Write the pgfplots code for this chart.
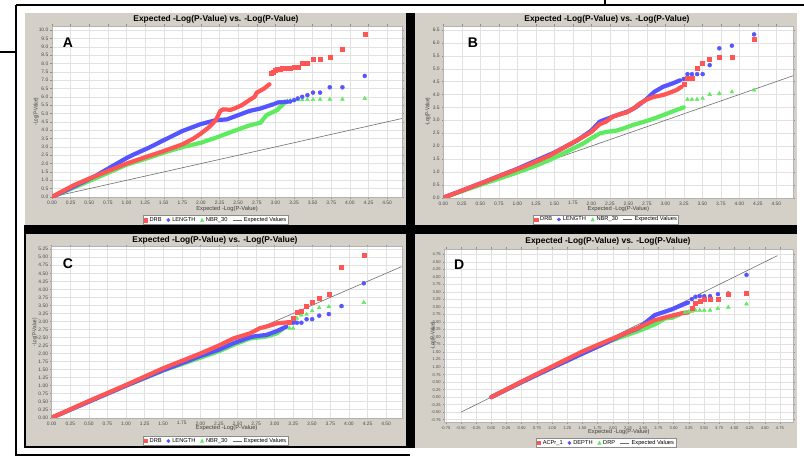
\documentclass[border=0pt]{standalone}
\usepackage{pgfplots}
\pgfplotsset{compat=1.18}
\usepackage{graphicx}
\usepackage{fontspec}
\setmainfont{Liberation Sans}
\definecolor{redc}{RGB}{255,85,85}
\definecolor{bluec}{RGB}{85,85,255}
\definecolor{greenc}{RGB}{95,235,95}
\definecolor{expc}{RGB}{110,110,110}
\definecolor{panelgray}{RGB}{212,208,200}
\definecolor{gridc}{RGB}{226,226,226}

\pgfplotsset{
  qq/.style={
    scale only axis, anchor=south west,
    axis background/.style={fill=white},
    grid=major,
    major grid style={draw=gridc, line width=0.4pt},
    axis line style={draw=black!30, line width=0.4pt},
    tick style={draw=black!45, line width=0.4pt},
    tick align=outside,
    major tick length=1.6pt,
    tick label style={font=\fontsize{4.9}{5}\selectfont, text=black!70, inner sep=0.5pt},
    xticklabel style={anchor=north, yshift=-1.6pt},
    yticklabel style={anchor=east, xshift=-1.4pt},
    /pgf/number format/fixed, /pgf/number format/fixed zerofill,
    /pgf/number format/precision=2,
    /pgf/number format/assume math mode=true,
    xlabel={Expected -Log(P-Value)},
    ylabel={\scalebox{0.78}[1]{-Log(P-Value)}},
    label style={font=\fontsize{5.8}{6}\selectfont, text=black!75},
    xlabel style={anchor=center},
    ylabel style={anchor=center},
    legend columns=-1,
    legend style={font=\fontsize{5.7}{6}\selectfont, draw=black!45, fill=white,
      inner sep=1pt, line width=0.4pt, anchor=center,
      /tikz/every odd column/.append style={column sep=1.2pt},
      /tikz/every even column/.append style={column sep=4pt},
      nodes={inner sep=0.8pt}},
    body/.style={line width=4.2pt, line join=round, line cap=round, forget plot},
    rm/.style={only marks, draw=redc, fill=redc, mark=square*, mark size=2pt, forget plot},
    bm/.style={only marks, draw=bluec, fill=bluec, mark=*, mark size=2pt, forget plot},
    gm/.style={only marks, draw=greenc, fill=greenc, mark=triangle*, mark size=2.2pt, forget plot},
    ex/.style={draw=expc, line width=0.6pt, forget plot},
  },
}
\newcommand{\legs}[3]{%
  \addlegendimage{legend image code/.code={\fill[redc] (0pt,-1.7pt) rectangle (3.4pt,1.7pt);}}
  \addlegendentry{#1}
  \addlegendimage{legend image code/.code={\fill[bluec] (1.7pt,0pt) circle (1.7pt);}}
  \addlegendentry{#2}
  \addlegendimage{legend image code/.code={\fill[greenc] (0pt,-1.5pt) -- (3.4pt,-1.5pt) -- (1.7pt,1.8pt) -- cycle;}}
  \addlegendentry{#3}
  \addlegendimage{legend image code/.code={\draw[expc, line width=0.6pt] (0pt,0pt) -- (9pt,0pt);}}
  \addlegendentry{Expected Values}
}

\begin{document}
\begin{tikzpicture}[x=1pt,y=1pt]
\useasboundingbox (0,0) rectangle (804,456);
\fill[white] (0,0) rectangle (804,456);
% frame lines
\draw[black, line width=1.3pt] (16,451) -- (804,451);
\draw[black, line width=1.3pt] (16,451) -- (16,0);
\draw[black, line width=1.3pt] (0,404) -- (16,404);
\draw[black, line width=1.3pt] (605,451) -- (605,456);
\draw[black, line width=1.3pt] (16,1) -- (410,1);
% black bands
\fill[black] (24,8) rectangle (797,231);
\fill[black] (406,231) rectangle (415,443);
% panels
\fill[panelgray] (25,231) rectangle (406,443);
\fill[panelgray] (415,231) rectangle (797,443);
\fill[panelgray] (25.5,10) rectangle (406,222);
\fill[panelgray] (415,8) rectangle (797,222);

% ---------------- A ----------------
\begin{axis}[qq, at={(52pt,259pt)}, width=350pt, height=171pt,
  xmin=0, xmax=4.7, ymin=0, ymax=10.24,
  xtick={0,0.25,...,4.5}, ytick={0,0.5,...,10},
  yticklabel style={/pgf/number format/precision=1},
  xlabel style={at={(axis description cs:0.5,-0.070)}},
  ylabel style={at={(axis description cs:-0.0457,0.5)}},
  legend style={at={(axis description cs:0.467,-0.1345)}}]
\legs{DRB}{LENGTH}{NBR\_30}
\addplot[ex] coordinates {(0,0) (4.7,4.7)};
\addplot[body, draw=greenc] coordinates {(0,0) (0.3,0.58) (0.6,1.15) (1.0,1.93) (1.25,2.28) (1.54,2.71) (1.77,3.01) (2.0,3.25) (2.2,3.55) (2.44,3.95) (2.66,4.3) (2.8,4.45) (2.88,4.9) (3.02,5.2) (3.09,5.5) (3.14,5.7)};
\addplot[gm] coordinates {(3.16,5.75) (3.20,5.78) (3.25,5.8) (3.30,5.82) (3.36,5.82) (3.43,5.83) (3.505,5.83) (3.60,5.85) (3.73,5.85) (3.90,5.85) (4.20,5.9)};
\addplot[body, draw=bluec] coordinates {(0,0) (0.3,0.64) (0.6,1.3) (0.8,1.82) (1.0,2.33) (1.1,2.55) (1.3,2.95) (1.5,3.4) (1.75,3.95) (2.0,4.37) (2.2,4.6) (2.35,4.65) (2.5,4.9) (2.65,5.15) (2.8,5.3) (2.97,5.55)};
\addplot[bm] coordinates {(3.00,5.6) (3.03,5.65) (3.06,5.68) (3.09,5.68) (3.125,5.7) (3.16,5.7) (3.20,5.72) (3.25,5.8) (3.30,5.9) (3.36,6.0) (3.43,6.1) (3.505,6.25) (3.60,6.25) (3.73,6.57) (3.90,6.57) (4.20,7.25)};
\addplot[body, draw=redc] coordinates {(0,0) (0.1,0.25) (0.3,0.72) (0.5,1.1) (0.75,1.55) (1.0,2.0) (1.25,2.38) (1.5,2.75) (1.75,3.15) (1.9,3.5) (2.0,3.8) (2.1,4.15) (2.2,4.6) (2.26,5.15) (2.3,5.25) (2.4,5.22) (2.45,5.3) (2.55,5.5) (2.65,5.8) (2.72,6.0) (2.75,6.25) (2.85,6.5) (2.92,6.75)};
\addplot[rm] coordinates {(2.95,7.4) (2.97,7.5) (3.00,7.6) (3.03,7.65) (3.06,7.68) (3.09,7.7) (3.125,7.7) (3.16,7.7) (3.20,7.72) (3.25,7.75) (3.30,7.8) (3.36,8.0) (3.43,8.0) (3.505,8.25) (3.60,8.27) (3.73,8.37) (3.90,8.85) (4.20,9.77)};
\end{axis}

% ---------------- B ----------------
\begin{axis}[qq, at={(443.3pt,258.3pt)}, width=350pt, height=171.7pt,
  xmin=0, xmax=4.73, ymin=0, ymax=6.655,
  xtick={0,0.25,...,4.5}, ytick={0,0.5,...,6.5},
  yticklabel style={/pgf/number format/precision=1},
  xlabel style={at={(axis description cs:0.5,-0.066)}},
  ylabel style={at={(axis description cs:-0.044,0.5)}},
  legend style={at={(axis description cs:0.465,-0.127)}}]
\legs{DRB}{LENGTH}{NBR\_30}
\addplot[ex] coordinates {(0,0) (4.73,4.73)};
\addplot[body, draw=greenc] coordinates {(0,0) (0.3,0.3) (0.5,0.5) (0.765,0.75) (1.0,0.98) (1.215,1.2) (1.45,1.48) (1.665,1.78) (1.89,2.1) (2.0,2.3) (2.115,2.49) (2.2,2.55) (2.34,2.6) (2.45,2.7) (2.565,2.82) (2.79,3.01) (2.97,3.2) (3.15,3.4) (3.25,3.5)};
\addplot[gm] coordinates {(3.30,3.81) (3.36,3.81) (3.43,3.81) (3.505,3.85) (3.60,4.0) (3.73,4.04) (3.90,4.1) (4.20,4.17)};
\addplot[body, draw=bluec] coordinates {(0,0) (0.5,0.55) (1.0,1.12) (1.5,1.75) (1.8,2.2) (2.0,2.6) (2.115,2.95) (2.3,3.15) (2.5,3.35) (2.6,3.5) (2.745,3.82) (2.85,4.1) (2.97,4.3) (3.1,4.43) (3.2,4.55)};
\addplot[bm] coordinates {(3.25,4.6) (3.30,4.79) (3.36,4.79) (3.43,4.79) (3.505,4.79) (3.60,5.14) (3.73,5.79) (3.90,5.89) (4.20,6.33)};
\addplot[body, draw=redc] coordinates {(0,0) (0.3,0.33) (0.5,0.55) (0.765,0.85) (1.0,1.1) (1.215,1.35) (1.45,1.65) (1.665,2.0) (1.89,2.36) (2.0,2.55) (2.115,2.85) (2.2,2.95) (2.295,3.15) (2.4,3.25) (2.475,3.3) (2.565,3.45) (2.655,3.65) (2.745,3.8) (2.835,3.9) (2.97,3.98) (3.06,4.07) (3.15,4.17) (3.22,4.3)};
\addplot[rm] coordinates {(3.25,4.38) (3.30,4.65) (3.36,4.65) (3.43,5.01) (3.505,5.2) (3.60,5.36) (3.73,5.44) (3.90,5.44) (4.20,6.14)};
\end{axis}

% ---------------- C ----------------
\begin{axis}[qq, at={(51.7pt,38.3pt)}, width=350pt, height=171pt,
  xmin=0, xmax=4.71, ymin=0, ymax=5.33,
  xtick={0,0.25,...,4.5}, ytick={0,0.25,...,5.25},
  xlabel style={at={(axis description cs:0.5,-0.062)}},
  ylabel style={at={(axis description cs:-0.048,0.5)}},
  legend style={at={(axis description cs:0.468,-0.136)}}]
\legs{DRB}{LENGTH}{NBR\_30}
\addplot[ex] coordinates {(0,0) (4.71,4.71)};
\addplot[body, draw=greenc] coordinates {(0,0) (0.5,0.5) (1.0,1.0) (1.5,1.47) (1.75,1.67) (2.0,1.87) (2.25,2.07) (2.445,2.27) (2.67,2.47) (2.89,2.53) (3.03,2.63) (3.12,2.79)};
\addplot[gm] coordinates {(3.20,2.79) (3.25,2.79) (3.30,3.10) (3.36,3.2) (3.43,3.22) (3.505,3.33) (3.60,3.43) (3.73,3.46) (3.90,3.47) (4.20,3.59)};
\addplot[body, draw=bluec] coordinates {(0,0) (0.5,0.5) (1.0,1.0) (1.5,1.48) (1.75,1.7) (2.0,1.92) (2.25,2.12) (2.445,2.32) (2.62,2.47) (2.71,2.53) (2.89,2.58) (3.03,2.70) (3.16,2.84)};
\addplot[bm] coordinates {(3.20,2.96) (3.25,2.96) (3.30,2.96) (3.36,2.96) (3.43,3.07) (3.505,3.07) (3.60,3.18) (3.73,3.23) (3.90,3.48) (4.20,4.19)};
\addplot[body, draw=redc] coordinates {(0,0) (0.5,0.52) (1.0,1.02) (1.5,1.54) (1.75,1.77) (2.0,2.0) (2.25,2.25) (2.445,2.47) (2.67,2.63) (2.8,2.79) (2.89,2.84) (3.03,2.94) (3.16,2.97)};
\addplot[rm] coordinates {(3.20,2.97) (3.25,3.10) (3.30,3.28) (3.36,3.33) (3.43,3.48) (3.505,3.59) (3.60,3.72) (3.73,3.85) (3.90,4.69) (4.20,5.05)};
\end{axis}

% ---------------- D ----------------
\begin{axis}[qq, at={(444.3pt,33.7pt)}, width=349pt, height=173.3pt,
  xmin=-0.773, xmax=4.97, ymin=-0.837, ymax=4.93,
  xtick={-0.75,-0.5,...,4.75}, ytick={-0.75,-0.5,...,4.75},
  tick label style={font=\fontsize{4.1}{4.2}\selectfont},
  xlabel style={at={(axis description cs:0.5,-0.054)}},
  ylabel style={at={(axis description cs:-0.032,0.5)}},
  legend style={at={(axis description cs:0.463,-0.119)}}]
\legs{ACPr\_1}{DEPTH}{DRP}
\addplot[ex] coordinates {(-0.5,-0.5) (4.71,4.71)};
\addplot[body, draw=greenc] coordinates {(0,0) (0.5,0.5) (1.0,0.98) (1.5,1.45) (1.87,1.8) (2.15,2.01) (2.42,2.2) (2.69,2.42) (2.86,2.62) (2.97,2.64) (3.1,2.75)};
\addplot[gm] coordinates {(3.19,2.82) (3.25,2.84) (3.30,2.86) (3.36,2.89) (3.43,2.89) (3.505,2.89) (3.60,2.89) (3.73,2.95) (3.90,2.99) (4.20,3.10)};
\addplot[body, draw=bluec] coordinates {(0,0) (0.5,0.5) (1.0,0.98) (1.5,1.45) (1.87,1.79) (2.2,2.12) (2.42,2.29) (2.55,2.5) (2.69,2.73) (2.97,2.92) (3.13,3.06) (3.24,3.15)};
\addplot[bm] coordinates {(3.30,3.26) (3.36,3.34) (3.43,3.36) (3.505,3.36) (3.60,3.36) (3.73,3.43) (3.90,3.45) (4.20,4.07)};
\addplot[body, draw=redc] coordinates {(0,0) (0.5,0.52) (1.0,1.02) (1.5,1.52) (1.87,1.84) (2.2,2.12) (2.42,2.31) (2.69,2.56) (2.97,2.71) (3.13,2.79) (3.24,2.82)};
\addplot[rm] coordinates {(3.30,2.95) (3.36,3.12) (3.43,3.2) (3.505,3.26) (3.60,3.26) (3.73,3.26) (3.90,3.42) (4.20,3.45)};
\end{axis}

% titles and letters
\begin{scope}[every node/.style={font=\bfseries\fontsize{8.4}{9}\selectfont}]
\node at (216,437) {Expected -Log(P-Value) vs. -Log(P-Value)};
\node at (607,437) {Expected -Log(P-Value) vs. -Log(P-Value)};
\node at (215,216) {Expected -Log(P-Value) vs. -Log(P-Value)};
\node at (608,214.3) {Expected -Log(P-Value) vs. -Log(P-Value)};
\end{scope}
\begin{scope}[every node/.style={font=\bfseries\fontsize{14}{14}\selectfont}]
\node at (68,413) {A};
\node at (473,413) {B};
\node at (68,192.7) {C};
\node at (459.3,191.7) {D};
\end{scope}
\end{tikzpicture}
\end{document}
